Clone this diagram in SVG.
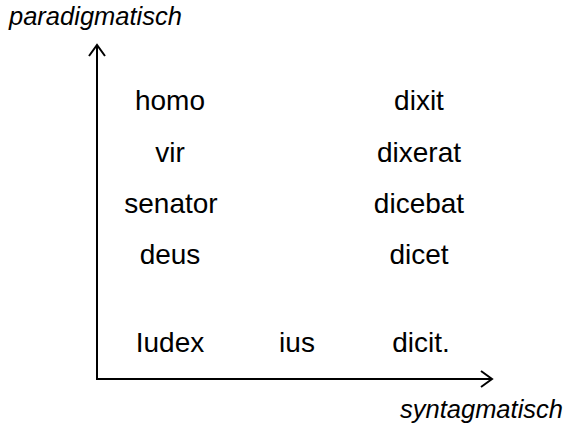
<svg xmlns="http://www.w3.org/2000/svg" width="564" height="433" viewBox="0 0 564 433">
  <style>
    .w { font-family: "Liberation Sans", Arial, sans-serif; font-size: 28px; fill: #000; text-anchor: middle; }
    .ax { font-family: "Liberation Sans", Arial, sans-serif; font-size: 25.5px; font-style: italic; fill: #000; }
    .axis { stroke: #000; stroke-width: 2; fill: none; }
  </style>
  <defs>
    <marker id="head" viewBox="0 0 20 20" refX="18" refY="10" markerWidth="20" markerHeight="20" markerUnits="userSpaceOnUse" orient="auto">
      <polyline points="7,2 18,10 7,18" fill="none" stroke="#000" stroke-width="2"/>
    </marker>
  </defs>
  <rect width="564" height="433" fill="#fff"/>
  <g id="connectors">
    <line class="axis" x1="97" y1="379" x2="97" y2="45" marker-end="url(#head)"/>
    <line class="axis" x1="96" y1="379" x2="492" y2="379" marker-end="url(#head)"/>
  </g>
  <g id="axis-labels">
    <text class="ax" x="9" y="25">paradigmatisch</text>
    <text class="ax" x="400" y="418">syntagmatisch</text>
  </g>
  <g id="subjects">
    <text class="w" x="170" y="110">homo</text>
    <text class="w" x="170" y="162">vir</text>
    <text class="w" x="171" y="213">senator</text>
    <text class="w" x="170" y="264">deus</text>
    <text class="w" x="170" y="352">Iudex</text>
  </g>
  <g id="objects">
    <text class="w" x="297" y="352">ius</text>
  </g>
  <g id="verbs">
    <text class="w" x="419" y="110">dixit</text>
    <text class="w" x="419" y="162">dixerat</text>
    <text class="w" x="419" y="213">dicebat</text>
    <text class="w" x="419" y="264">dicet</text>
    <text class="w" x="421" y="352">dicit.</text>
  </g>
</svg>
